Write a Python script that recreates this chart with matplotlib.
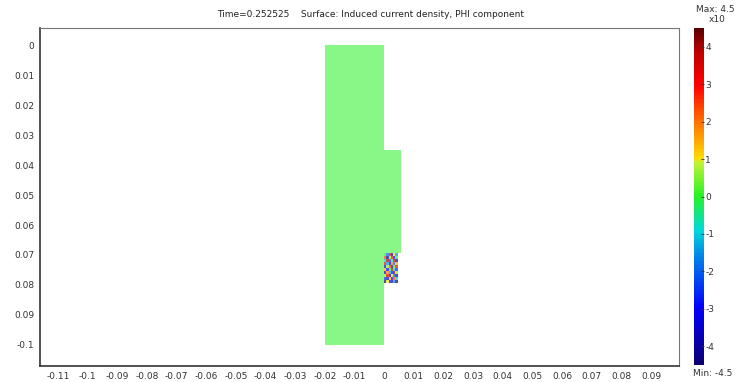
import matplotlib.pyplot as plt
import numpy as np
from matplotlib.colors import LinearSegmentedColormap, Normalize
from matplotlib.cm import ScalarMappable

plt.rcParams['axes.unicode_minus'] = False

title = "Time=0.252525    Surface: Induced current density, PHI component"

# regions of the model (r from, r to, z from, z to), value of the field
coil_r = [-0.02, 0.0]
coil_z = [-0.1, 0.0]
ring_r = [0.0, 0.0055]
ring_z = [-0.0695, -0.035]
patch_r = [0.0, 0.0045]
patch_z = [-0.0795, -0.0693]

# noisy values in the small conductor
patch_vals = np.array([
    [0.0, -2.0, 3.5, -4.0, 1.0, -1.5],
    [2.5, -4.5, 0.5, 3.0, -3.0, 0.0],
    [-1.0, 4.0, -2.5, -0.5, 3.5, -4.0],
    [3.0, -1.5, -4.0, 2.0, -2.0, 1.5],
    [-3.5, 0.5, 2.5, -4.5, 0.0, 3.0],
    [1.5, -3.0, 0.0, 4.0, -1.0, -2.5],
    [-4.0, 2.0, -1.5, -3.0, 4.5, 0.5],
    [0.5, 3.5, -4.5, 1.0, -2.0, -4.0],
    [-2.5, -4.0, 1.5, -3.5, 2.5, -1.0],
    [-4.5, 1.0, -3.0, -4.0, -1.5, -4.5],
])

xticks = [-0.11, -0.1, -0.09, -0.08, -0.07, -0.06, -0.05, -0.04, -0.03, -0.02,
          -0.01, 0, 0.01, 0.02, 0.03, 0.04, 0.05, 0.06, 0.07, 0.08, 0.09]
xlabels = ['-0.11', '-0.1', '-0.09', '-0.08', '-0.07', '-0.06', '-0.05', '-0.04',
           '-0.03', '-0.02', '-0.01', '0', '0.01', '0.02', '0.03', '0.04', '0.05',
           '0.06', '0.07', '0.08', '0.09']
yticks = [0, -0.01, -0.02, -0.03, -0.04, -0.05, -0.06, -0.07, -0.08, -0.09, -0.1]
ylabels = ['0', '0.01', '0.02', '0.03', '0.04', '0.05', '0.06', '0.07', '0.08',
           '0.09', '-0.1']
cbar_ticks = [-4, -3, -2, -1, 0, 1, 2, 3, 4]
vmin, vmax = -4.5, 4.5

cmap = LinearSegmentedColormap.from_list('comsol', [
    (0.00, (0.05, 0.0, 0.45)),
    (0.17, (0.0, 0.0, 1.0)),
    (0.33, (0.0, 0.55, 0.9)),
    (0.40, (0.0, 0.85, 0.85)),
    (0.50, (0.15, 0.95, 0.15)),
    (0.60, (0.75, 0.95, 0.2)),
    (0.615, (1.0, 0.85, 0.0)),
    (0.72, (1.0, 0.45, 0.0)),
    (0.83, (1.0, 0.0, 0.0)),
    (0.93, (0.75, 0.0, 0.0)),
    (1.00, (0.35, 0.0, 0.0)),
])
norm = Normalize(vmin, vmax)

fig = plt.figure(figsize=(7.41, 3.82), dpi=100)
ax = fig.add_axes([0.054, 0.042, 0.8623, 0.8848])

# field is zero in coil and ring -> light green surface
for rr, zz in [(coil_r, coil_z), (ring_r, ring_z)]:
    ax.pcolormesh(rr, zz, np.zeros((1, 1)), cmap=cmap, norm=norm, alpha=0.55,
                  edgecolors='none')
pr = np.linspace(patch_r[0], patch_r[1], patch_vals.shape[1] + 1)
pz = np.linspace(patch_z[1], patch_z[0], patch_vals.shape[0] + 1)
ax.pcolormesh(pr, pz, patch_vals, cmap=cmap, norm=norm, alpha=0.7)

ax.set_xlim(-0.1161, 0.0994)
ax.set_ylim(-0.107, 0.0057)
ax.set_xticks(xticks)
ax.set_xticklabels(xlabels)
ax.set_yticks(yticks)
ax.set_yticklabels(ylabels)
ax.tick_params(labelsize=6.5, length=0, pad=4, colors='#333333')
for s in ['left', 'bottom']:
    ax.spines[s].set_color('#333333')
    ax.spines[s].set_linewidth(1.2)
for s in ['top', 'right']:
    ax.spines[s].set_color('#777777')
    ax.spines[s].set_linewidth(0.8)
fig.text(0.5, 0.962, title, ha='center', va='center', fontsize=6.5, color='#222222')

cax = fig.add_axes([0.9366, 0.0445, 0.0135, 0.8822])
cb = fig.colorbar(ScalarMappable(norm=norm, cmap=cmap), cax=cax)
cb.set_ticks(cbar_ticks)
cb.outline.set_visible(False)
cax.tick_params(labelsize=6.5, length=2, width=0.6, pad=1, colors='#333333',
                direction='in')
fig.text(0.965, 0.975, 'Max: 4.5', ha='center', va='center', fontsize=6.5, color='#333333')
fig.text(0.968, 0.950, 'x10', ha='center', va='center', fontsize=6.5, color='#333333')
fig.text(0.962, 0.022, 'Min: -4.5', ha='center', va='center', fontsize=6.5, color='#333333')

fig.savefig('out.png', dpi=100)
